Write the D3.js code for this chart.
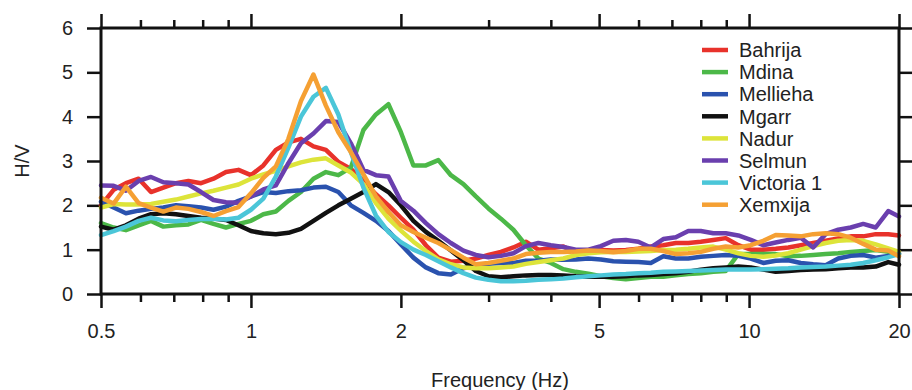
<!DOCTYPE html>
<html>
<head>
<meta charset="utf-8">
<script src="https://cdn.jsdelivr.net/npm/d3@7"></script>
<style>
  body { margin: 0; background: #fff; }
  text { font-family: "Liberation Sans", Arial, sans-serif; fill: #222; }
</style>
</head>
<body>
<div id="chart"></div>
<script>
// frequency grid (Hz)
const freq = [0.5, 0.53, 0.561, 0.595, 0.63, 0.667, 0.707, 0.749, 0.794, 0.841, 0.891, 0.944,
  1.0, 1.059, 1.122, 1.189, 1.26, 1.335, 1.414, 1.498, 1.587, 1.682, 1.782, 1.888,
  2.0, 2.119, 2.245, 2.378, 2.52, 2.67, 2.828, 2.997, 3.175, 3.364, 3.564, 3.776,
  4.0, 4.238, 4.49, 4.757, 5.04, 5.339, 5.657, 5.993, 6.35, 6.727, 7.127, 7.551,
  8.0, 8.476, 8.98, 9.514, 10.08, 10.68, 11.31, 11.99, 12.7, 13.45, 14.25, 15.1,
  16.0, 16.95, 17.96, 19.03, 20.0];

const bahrija = [2.0,2.35,2.5,2.6,2.3,2.4,2.5,2.55,2.5,2.6,2.75,2.8,2.68,2.9,3.25,3.42,3.5,3.33,3.25,2.98,
  2.82,2.55,2.25,2.0,1.72,1.45,1.1,0.82,0.73,0.75,0.8,0.88,0.95,1.05,1.18,1.0,1.03,1.07,0.93,0.97,
  0.99,0.98,0.99,1.02,1.07,1.1,1.15,1.15,1.18,1.22,1.26,1.1,1.0,1.0,1.02,1.05,1.1,1.15,1.2,1.25,
  1.3,1.3,1.35,1.35,1.32];
const mdina = [1.6,1.5,1.44,1.55,1.65,1.52,1.55,1.57,1.67,1.58,1.5,1.58,1.65,1.8,1.86,2.1,2.3,2.6,2.75,2.68,
  2.85,3.7,4.05,4.28,3.65,2.9,2.9,3.02,2.68,2.48,2.2,1.93,1.7,1.45,1.1,0.8,0.7,0.56,0.5,0.46,
  0.4,0.36,0.33,0.36,0.39,0.39,0.42,0.45,0.47,0.5,0.52,0.9,0.9,0.9,0.9,0.85,0.86,0.88,0.9,0.92,
  0.95,0.97,0.99,0.95,0.9];
const mellieha = [2.08,1.95,1.82,1.88,1.92,1.95,2.0,1.98,1.95,1.9,1.97,2.1,2.2,2.3,2.28,2.32,2.34,2.4,2.42,2.3,
  2.0,1.83,1.65,1.42,1.12,0.82,0.6,0.47,0.44,0.58,0.65,0.68,0.7,0.7,0.75,0.75,0.78,0.77,0.78,0.8,
  0.78,0.74,0.73,0.72,0.7,0.85,0.8,0.8,0.84,0.86,0.88,0.86,0.8,0.7,0.75,0.76,0.7,0.67,0.65,0.8,
  0.86,0.88,0.82,0.86,0.92];
const mgarr = [1.52,1.45,1.55,1.7,1.8,1.82,1.8,1.76,1.72,1.7,1.67,1.55,1.42,1.37,1.35,1.38,1.47,1.65,1.83,2.0,
  2.15,2.3,2.48,2.3,2.0,1.65,1.4,1.2,0.98,0.76,0.52,0.4,0.38,0.4,0.42,0.43,0.43,0.42,0.4,0.39,
  0.39,0.39,0.4,0.42,0.43,0.45,0.47,0.5,0.55,0.58,0.6,0.62,0.6,0.55,0.5,0.52,0.54,0.55,0.56,0.58,
  0.6,0.6,0.62,0.72,0.66];
const nadur = [1.95,2.03,2.02,2.02,2.03,2.08,2.13,2.2,2.27,2.33,2.4,2.47,2.6,2.7,2.78,2.88,2.97,3.03,3.06,2.9,
  2.74,2.48,2.05,1.7,1.43,1.18,0.97,0.78,0.67,0.6,0.58,0.58,0.6,0.62,0.68,0.72,0.76,0.8,0.88,0.92,
  0.94,0.95,0.95,0.96,0.97,0.99,1.0,1.02,1.05,1.07,1.0,0.92,0.86,0.84,0.87,0.92,1.0,1.08,1.15,1.2,
  1.22,1.2,1.12,1.03,0.95];
const selmun = [2.45,2.44,2.33,2.55,2.64,2.52,2.5,2.47,2.3,2.12,2.07,2.06,2.2,2.36,2.45,2.95,3.4,3.62,3.9,3.88,
  3.4,2.8,2.68,2.65,2.1,1.88,1.6,1.35,1.15,0.98,0.88,0.83,0.86,0.92,1.08,1.15,1.1,1.06,1.0,1.0,
  1.08,1.2,1.22,1.18,1.05,1.24,1.28,1.42,1.42,1.37,1.37,1.32,1.22,1.1,1.16,1.22,1.27,1.05,1.35,1.45,
  1.5,1.58,1.5,1.87,1.75];
const victoria = [1.33,1.42,1.52,1.65,1.72,1.66,1.64,1.67,1.69,1.7,1.68,1.72,1.9,2.15,2.65,3.3,4.0,4.45,4.65,4.05,
  3.2,2.4,1.77,1.4,1.17,1.0,0.88,0.74,0.6,0.47,0.37,0.32,0.29,0.29,0.3,0.32,0.33,0.35,0.38,0.4,
  0.42,0.44,0.45,0.47,0.48,0.5,0.51,0.52,0.53,0.54,0.55,0.55,0.55,0.56,0.57,0.58,0.6,0.61,0.62,0.64,
  0.66,0.7,0.76,0.83,0.9];
const xemxija = [2.17,2.04,2.42,2.05,1.95,1.86,1.95,1.92,1.85,1.76,1.87,1.96,2.27,2.62,2.88,3.5,4.35,4.95,4.25,3.65,
  3.2,2.7,2.2,1.85,1.55,1.4,1.27,1.15,0.99,0.82,0.67,0.7,0.75,0.8,0.9,0.93,0.95,0.95,0.96,0.98,
  0.97,0.94,0.97,1.02,1.02,0.97,0.9,0.92,0.95,1.02,1.07,1.05,1.1,1.2,1.33,1.32,1.3,1.35,1.37,1.35,
  1.27,1.13,1.0,0.98,0.85];

const names = ["Bahrija", "Mdina", "Mellieha", "Mgarr", "Nadur", "Selmun", "Victoria 1", "Xemxija"];
const values = [bahrija, mdina, mellieha, mgarr, nadur, selmun, victoria, xemxija];
const colors = ["#e8322b", "#4cb848", "#2a52ae", "#111111", "#dde43a", "#6a3fae", "#4bc6d8", "#f5a033"];

const majorX = [0.5, 1, 2, 5, 10, 20];
const minorX = [0.6, 0.7, 0.8, 0.9, 3, 4, 6, 7, 8, 9];
const yTicks = [0, 1, 2, 3, 4, 5, 6];

const width = 912, height = 390;
const m = { left: 101, right: 899, top: 28, bottom: 294 };

const svg = d3.select("#chart").append("svg")
    .attr("width", width)
    .attr("height", height);

svg.append("rect").attr("width", width).attr("height", height).attr("fill", "#fff");

const x = d3.scaleLog().domain([0.5, 20]).range([m.left, m.right]);
const y = d3.scaleLinear().domain([0, 6]).range([m.bottom, m.top]);

const fmt = d => (d < 1 ? d3.format(".1f")(d) : d3.format("d")(d));

function styleAxis(g) {
    g.select(".domain").remove();
    g.selectAll(".tick line").attr("stroke", "#111").attr("stroke-width", 2.5);
    g.selectAll(".tick text").attr("font-size", 20).attr("fill", "#222")
        .attr("font-family", "Liberation Sans, Arial, sans-serif");
}

// bottom axis
svg.append("g").attr("transform", `translate(0,${m.bottom})`)
    .call(d3.axisBottom(x).tickValues(majorX).tickFormat(fmt).tickSize(14).tickPadding(16))
    .call(styleAxis);
svg.append("g").attr("transform", `translate(0,${m.bottom})`)
    .call(d3.axisBottom(x).tickValues(minorX).tickFormat("").tickSize(8))
    .call(styleAxis);

// top axis
svg.append("g").attr("transform", `translate(0,${m.top})`)
    .call(d3.axisTop(x).tickValues(majorX).tickFormat("").tickSize(14))
    .call(styleAxis);
svg.append("g").attr("transform", `translate(0,${m.top})`)
    .call(d3.axisTop(x).tickValues(minorX).tickFormat("").tickSize(8))
    .call(styleAxis);

// left / right axes
svg.append("g").attr("transform", `translate(${m.left},0)`)
    .call(d3.axisLeft(y).tickValues(yTicks).tickFormat(d3.format("d")).tickSize(14).tickPadding(14))
    .call(styleAxis);
svg.append("g").attr("transform", `translate(${m.right},0)`)
    .call(d3.axisRight(y).tickValues(yTicks).tickFormat("").tickSize(14))
    .call(styleAxis);

// series
const line = d3.line()
    .x((d, i) => x(freq[i]))
    .y(d => y(d));

svg.append("g").selectAll("path")
    .data(values)
    .join("path")
    .attr("d", d => line(d))
    .attr("fill", "none")
    .attr("stroke", (d, i) => colors[i])
    .attr("stroke-width", 4.5)
    .attr("stroke-linejoin", "round")
    .attr("stroke-linecap", "round");

// frame
svg.append("rect")
    .attr("x", m.left).attr("y", m.top)
    .attr("width", m.right - m.left).attr("height", m.bottom - m.top)
    .attr("fill", "none").attr("stroke", "#111").attr("stroke-width", 3);

// legend
const legend = svg.append("g");
const rows = legend.selectAll("g")
    .data(names)
    .join("g")
    .attr("transform", (d, i) => `translate(702,${50 + i * 22.1})`);
rows.append("line")
    .attr("x1", 0).attr("x2", 26)
    .attr("stroke", (d, i) => colors[i])
    .attr("stroke-width", 4.5);
rows.append("text")
    .attr("x", 37).attr("dy", "0.36em")
    .attr("font-size", 20)
    .text(d => d);

// axis titles
svg.append("text")
    .attr("x", (m.left + m.right) / 2).attr("y", 387)
    .attr("text-anchor", "middle").attr("font-size", 20)
    .text("Frequency (Hz)");
svg.append("text")
    .attr("transform", `translate(29,${(m.top + m.bottom) / 2}) rotate(-90)`)
    .attr("text-anchor", "middle").attr("font-size", 20)
    .text("H/V");
</script>
</body>
</html>
